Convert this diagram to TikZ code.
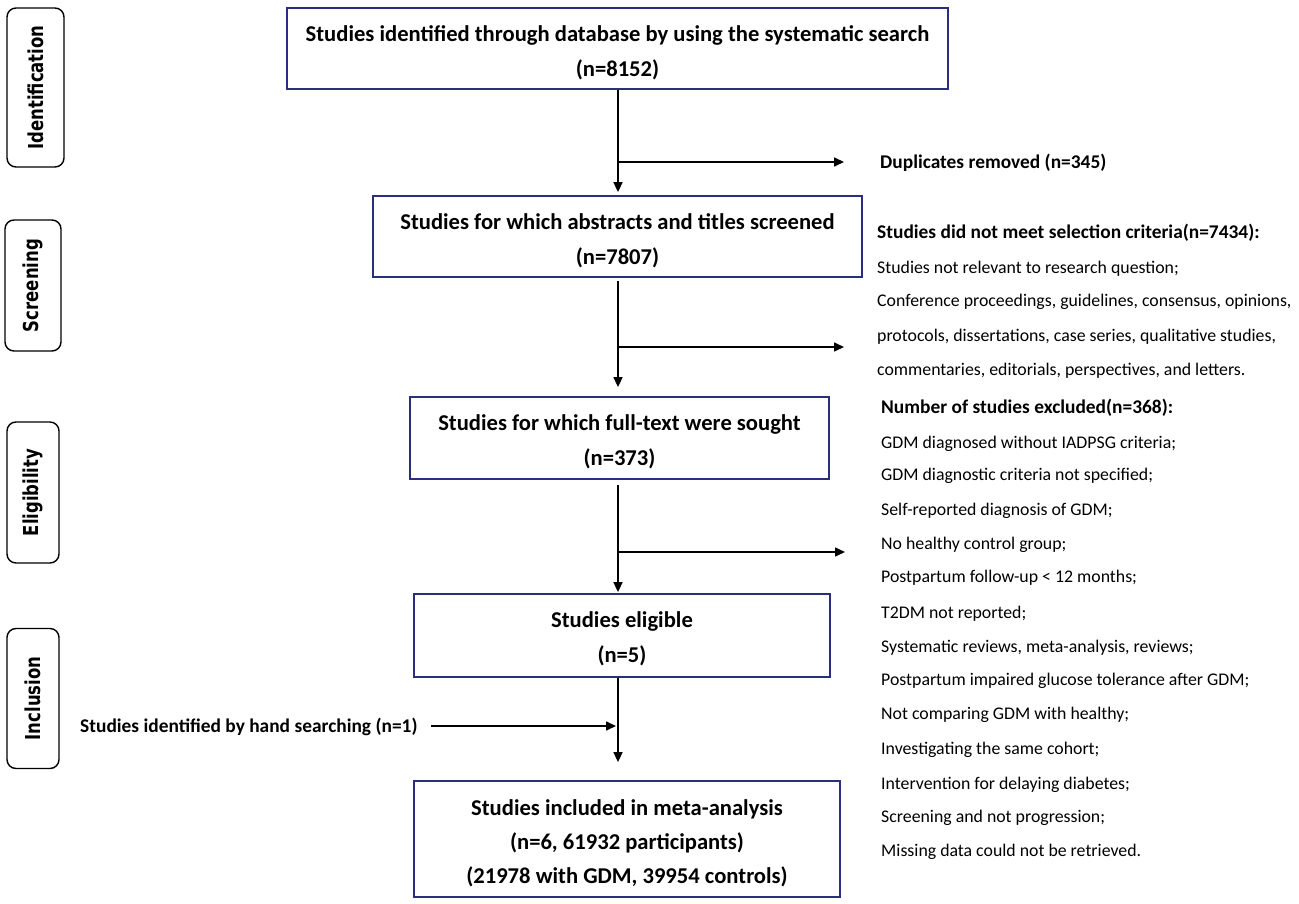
\documentclass[tikz,border=0pt]{standalone}
\usepackage{fontspec}
\setmainfont{Carlito}
\newfontfamily\stagefont[FakeStretch=0.8]{DejaVu Sans}
\usetikzlibrary{arrows.meta}
\definecolor{navy}{RGB}{43,45,125}
\begin{document}
\begin{tikzpicture}[x=1pt,y=-1pt,
  flowbox/.style={draw=navy,line width=1.8pt,inner sep=0pt},
  boxtext/.style={align=center,inner sep=0pt,
    font=\fontsize{22.6}{35}\selectfont\bfseries},
  stage/.style={draw=black,line width=1.4pt,rounded corners=9pt,inner sep=0pt,rotate=90,
    font=\stagefont\bfseries\fontsize{20.6}{22}\selectfont},
  conn/.style={line width=1.6pt,-{Triangle[length=10pt,width=9pt]}},
  side/.style={anchor=base west,inner sep=0pt,font=\fontsize{17.8}{20}\selectfont},
  sidebold/.style={anchor=base west,inner sep=0pt,font=\bfseries\fontsize{19.4}{22}\selectfont}]
\useasboundingbox (0,0) rectangle (1299,904);

% stage labels
\node[stage,minimum width=159pt,minimum height=57pt] (s1) at (35.5,87.5) {Identification};
\node[stage,minimum width=131pt,minimum height=56pt] (s2) at (33,285.5) {Screening};
\node[stage,minimum width=141pt,minimum height=52pt] (s3) at (33,492.5) {Eligibility};
\node[stage,minimum width=140pt,minimum height=52pt] (s4) at (33,698.5) {Inclusion};

% main boxes
\node[flowbox,minimum width=661pt,minimum height=81pt] (b1) at (617.5,48.5) {};
\node[flowbox,minimum width=489pt,minimum height=81pt] (b2) at (617.5,236.5) {};
\node[flowbox,minimum width=419pt,minimum height=82pt] (b3) at (619.5,438) {};
\node[flowbox,minimum width=416pt,minimum height=83pt] (b4) at (622,635.5) {};
\node[flowbox,minimum width=426pt,minimum height=116pt] (b5) at (627,839) {};
\node[boxtext] (t1) at ([yshift=-4pt]b1.center)
  {Studies identified through database by using the systematic search\\(n=8152)};
\node[boxtext] (t2) at ([yshift=-4pt]b2.center)
  {Studies for which abstracts and titles screened\\(n=7807)};
\node[boxtext] (t3) at ([yshift=-4pt]b3.center)
  {Studies for which full-text were sought\\(n=373)};
\node[boxtext] (t4) at ([yshift=-3.5pt]b4.center)
  {Studies eligible\\(n=5)};
\node[boxtext,font=\fontsize{22.6}{34}\selectfont\bfseries] (t5) at ([yshift=-4.5pt]b5.center)
  {Studies included in meta-analysis\\(n=6, 61932 participants)\\(21978 with GDM, 39954 controls)};

% spine
\coordinate (spine) at (618,0);
\draw[conn] (b1.south -| spine) -- ([yshift=3pt]b2.north -| spine);
\draw[conn] ([yshift=-3pt]b2.south -| spine) -- ([yshift=9pt]b3.north -| spine);
\draw[conn] ([yshift=-5pt]b3.south -| spine) -- ([yshift=1pt]b4.north -| spine);
\draw[conn] (b4.south -| spine) -- ([yshift=18pt]b5.north -| spine);

% branches
\coordinate (j1) at (618,162); \coordinate (e1) at (844,162);
\coordinate (j2) at (618,347); \coordinate (e2) at (844,347);
\coordinate (j3) at (618,552); \coordinate (e3) at (845,552);
\draw[conn] (j1) -- (e1);
\draw[conn] (j2) -- (e2);
\draw[conn] (j3) -- (e3);

% side texts
\node[sidebold] (dup) at (880,168.5) {Duplicates removed (n=345)};
\node[sidebold] (scrh) at (877,238.5) {Studies did not meet selection criteria(n=7434):};
\foreach \t/\y [count=\i] in {{Studies not relevant to research question;}/267,
  {Conference proceedings, guidelines, consensus, opinions,}/300,
  {protocols, dissertations, case series, qualitative studies,}/335,
  {commentaries, editorials, perspectives, and letters.}/369}
  \node[side] (scr\i) at (877,\y+6) {\t};
\node[sidebold] (elh) at (881,413.5) {Number of studies excluded(n=368):};
\foreach \t/\y [count=\i] in {{GDM diagnosed without IADPSG criteria;}/442,
  {GDM diagnostic criteria not specified;}/474,
  {Self-reported diagnosis of GDM;}/509,
  {No healthy control group;}/543,
  {Postpartum follow-up < 12 months;}/576,
  {T2DM not reported;}/612,
  {Systematic reviews, meta-analysis, reviews;}/646,
  {Postpartum impaired glucose tolerance after GDM;}/679,
  {Not comparing GDM with healthy;}/713,
  {Investigating the same cohort;}/748,
  {Intervention for delaying diabetes;}/783,
  {Screening and not progression;}/816,
  {Missing data could not be retrieved.}/850}
  \node[side] (el\i) at (881,\y+6) {\t};

% hand searching
\node[sidebold] (hand) at (80,732.5) {Studies identified by hand searching (n=1)};
\coordinate (h1) at (431,726); \coordinate (j4) at (616,726);
\draw[conn] (h1) -- (j4);
\end{tikzpicture}
\end{document}
